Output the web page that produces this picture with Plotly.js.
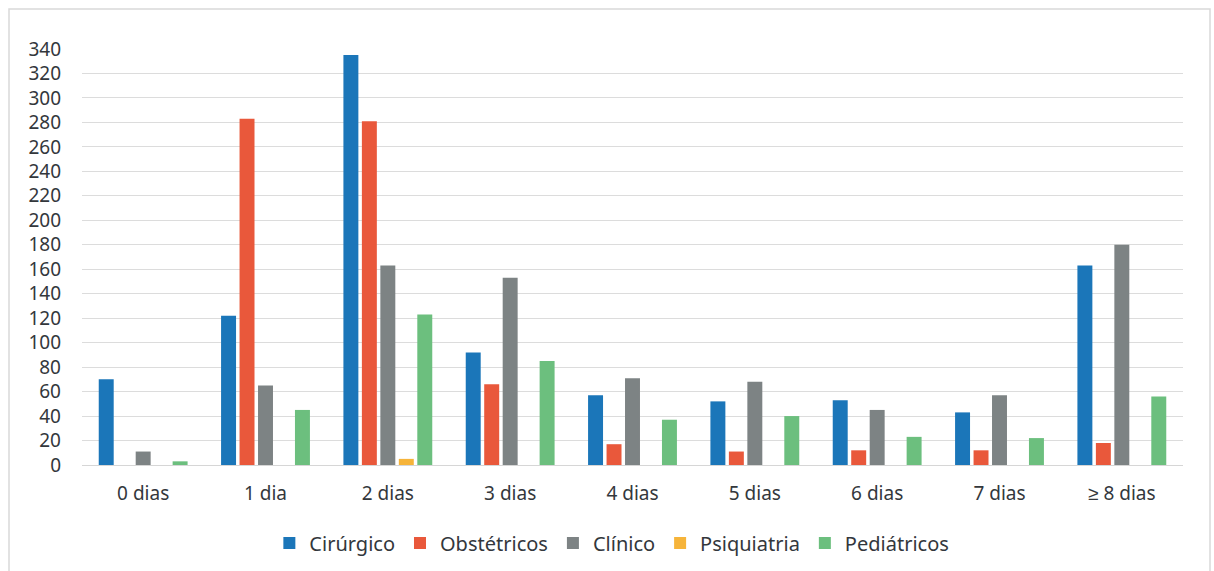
<!DOCTYPE html>
<html>
<head>
<meta charset="utf-8">
<script src="https://cdn.plot.ly/plotly-3.0.1.min.js"></script>
<style>
html,body{margin:0;padding:0;background:#fff;}
#chart{width:1214px;height:571px;}
</style>
</head>
<body>
<div id="chart"></div>
<script>
const categories = ["0 dias", "1 dia", "2 dias", "3 dias", "4 dias", "5 dias", "6 dias", "7 dias", "≥ 8 dias"];
const cirurgico   = [70, 122, 335, 92, 57, 52, 53, 43, 163];
const obstetricos = [0, 283, 281, 66, 17, 11, 12, 12, 18];
const clinico     = [11, 65, 163, 153, 71, 68, 45, 57, 180];
const psiquiatria = [0, 0, 5, 0, 0, 0, 0, 0, 0];
const pediatricos = [3, 45, 123, 85, 37, 40, 23, 22, 56];
const yTicks = [0,20,40,60,80,100,120,140,160,180,200,220,240,260,280,300,320,340];

const series = [
  {name: "Cirúrgico", y: cirurgico, color: "#1b76b9"},
  {name: "Obstétricos", y: obstetricos, color: "#e9583b"},
  {name: "Clínico", y: clinico, color: "#7d8384"},
  {name: "Psiquiatria", y: psiquiatria, color: "#f6b43a"},
  {name: "Pediátricos", y: pediatricos, color: "#6cbf7e"}
];

const data = series.map(s => ({
  type: "bar",
  name: s.name,
  x: categories,
  y: s.y,
  marker: {color: s.color},
  hoverinfo: "x+y+name"
}));

const txt = "#33373c";
const layout = {
  width: 1214, height: 571,
  margin: {l: 82, r: 31, t: 49, b: 106},
  paper_bgcolor: "#ffffff",
  plot_bgcolor: "#ffffff",
  barmode: "group",
  bargap: 0.245,
  bargroupgap: 0.19,
  font: {family: "Noto Sans, sans-serif", color: txt},
  xaxis: {
    type: "category",
    showgrid: false,
    showline: false,
    zeroline: false,
    ticks: "",
    ticklabelstandoff: 15,
    tickfont: {size: 19, color: txt}
  },
  yaxis: {
    range: [0, 340],
    tickmode: "array",
    tickvals: yTicks,
    ticktext: yTicks.map(String),
    showgrid: true,
    gridcolor: "#dcdcdc",
    gridwidth: 1,
    zeroline: true,
    zerolinecolor: "#d6d6d6",
    showline: false,
    ticks: "",
    ticklabelstandoff: 20,
    tickfont: {size: 19, color: txt}
  },
  showlegend: true,
  legend: {
    orientation: "h",
    xref: "container", yref: "container",
    x: 0.504, xanchor: "center",
    y: 0.049, yanchor: "middle",
    font: {size: 20, color: txt},
    itemwidth: 30,
    tracegroupgap: 0
  },
  shapes: [{
    type: "rect", xref: "paper", yref: "paper",
    x0: (9 - 82) / 1101, x1: (1210 - 82) / 1101,
    y0: (465 - 575) / 416, y1: (465 - 9) / 416,
    line: {color: "#d9d9d9", width: 1.5},
    fillcolor: "rgba(0,0,0,0)", layer: "below"
  }]
};

Plotly.newPlot("chart", data, layout, {displayModeBar: false, staticPlot: true});
</script>
</body>
</html>
